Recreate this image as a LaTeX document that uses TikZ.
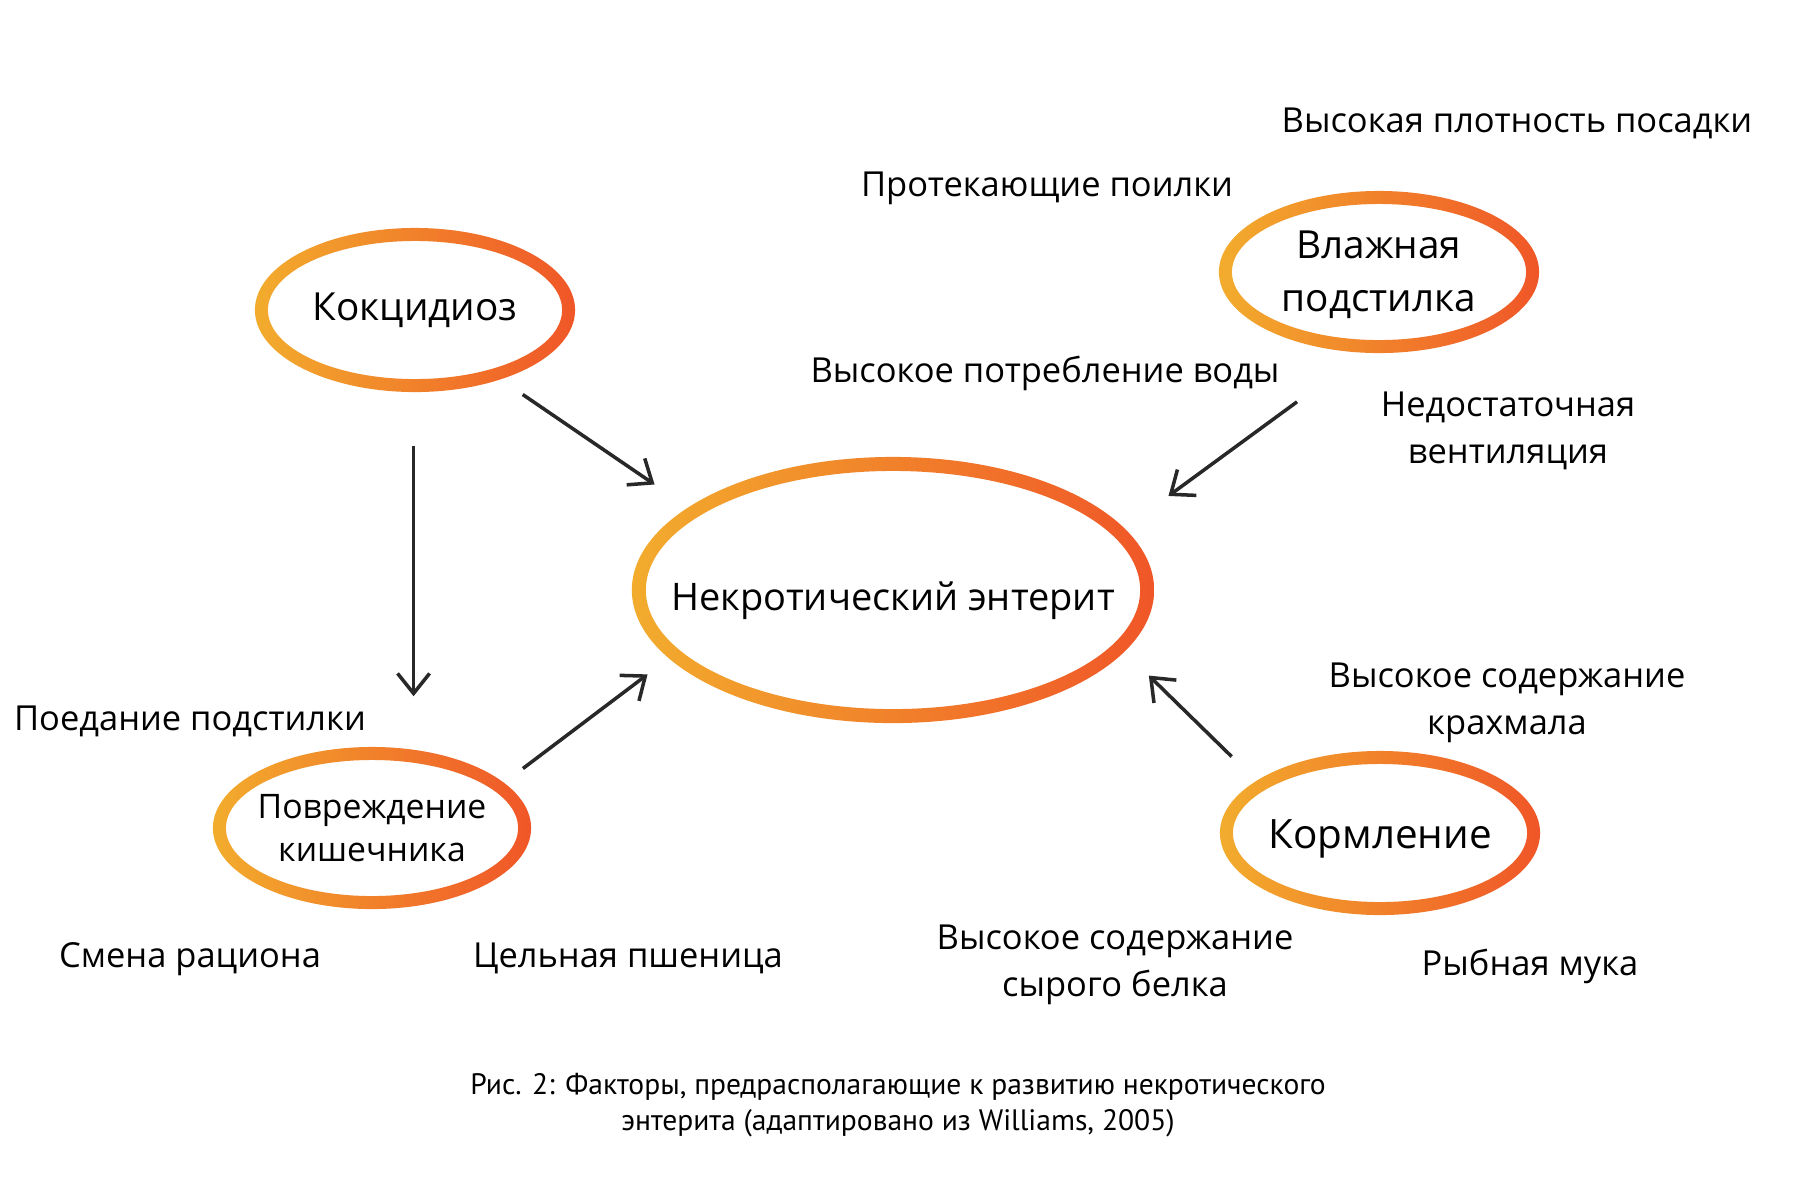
\documentclass[tikz,border=0pt]{standalone}
\usepackage{fontspec}
\setmainfont{Open Sans}
\newfontfamily\capfont{PT Sans}
\usetikzlibrary{shapes.geometric,arrows.meta}
\definecolor{ringleft}{RGB}{242,172,45}
\definecolor{ringright}{RGB}{240,86,40}
\definecolor{arrowgray}{RGB}{40,40,40}

\begin{document}
\begin{tikzpicture}[x=0.01cm,y=-0.01cm,
    ring/.style={ellipse,inner sep=0pt,draw=none},
    ringfill/.style={left color=ringleft,right color=ringright,even odd rule},
    factor/.style={font=\fontsize{9.8}{13.2}\selectfont,align=center,inner sep=0pt},
    arr/.style={draw=arrowgray,line width=1pt,-{Straight Barb[length=0.2cm,width=0.32cm]}}]
        \fill[white] (0,0) rectangle (1800,1199);
        \useasboundingbox (0,0) rectangle (1800,1199);

        % rings
        \node[ring,minimum width=3.2cm,minimum height=1.64cm,label={[font=\fontsize{11}{15}\selectfont]center:Кокцидиоз}] (kok) at (415,310) {};
        \shade[ringfill] (kok.center) ellipse (1.6cm and 0.82cm) (kok.center) ellipse (1.47cm and 0.69cm);

        \node[ring,minimum width=5.22cm,minimum height=2.66cm,label={[font=\fontsize{10.8}{15}\selectfont,yshift=-0.11cm]center:Некротический энтерит}] (nek) at (893,590) {};
        \shade[ringfill] (nek.center) ellipse (2.61cm and 1.33cm) (nek.center) ellipse (2.47cm and 1.19cm);

        \node[ring,minimum width=3.2cm,minimum height=1.62cm,label={[font=\fontsize{11}{15}\selectfont,align=center,yshift=-0.03cm]center:Влажная\\подстилка}] (vlazh) at (1379,272) {};
        \shade[ringfill] (vlazh.center) ellipse (1.6cm and 0.81cm) (vlazh.center) ellipse (1.47cm and 0.68cm);

        \node[ring,minimum width=3.18cm,minimum height=1.62cm,label={[font=\fontsize{9.6}{12.2}\selectfont,align=center]center:Повреждение\\кишечника}] (povr) at (372,828) {};
        \shade[ringfill] (povr.center) ellipse (1.59cm and 0.81cm) (povr.center) ellipse (1.46cm and 0.68cm);

        \node[ring,minimum width=3.2cm,minimum height=1.64cm,label={[font=\fontsize{11.5}{15}\selectfont,yshift=-0.06cm]center:Кормление}] (korm) at (1380,833) {};
        \shade[ringfill] (korm.center) ellipse (1.6cm and 0.82cm) (korm.center) ellipse (1.47cm and 0.69cm);

        % factors
        \node[factor,anchor=base] (plot) at (1517,132) {Высокая плотность посадки};
        \node[factor,anchor=base] (poil) at (1047,196) {Протекающие поилки};
        \node[factor,anchor=base] (voda) at (1045,382) {Высокое потребление воды};
        \node[factor] (vent) at (1508,431) {Недостаточная\\вентиляция};
        \node[factor] (krah) at (1507,703) {Высокое содержание\\крахмала};
        \node[factor,anchor=base] (poed) at (190,730) {Поедание подстилки};
        \node[factor,anchor=base] (smena) at (190,967) {Смена рациона};
        \node[factor,anchor=base] (psh) at (628,967) {Цельная пшеница};
        \node[factor] (belok) at (1115,965) {Высокое содержание\\сырого белка};
        \node[factor,anchor=base] (muka) at (1530,975) {Рыбная мука};

        % arrows
        \draw[arr,shorten <=0.26cm,shorten >=0.4cm] (kok.-39) -- (nek.158.5);
        \draw[arr,shorten <=0.53cm,shorten >=0.5cm] (kok.-91) -- (kok.-91 |- povr.north);
        \draw[arr,shorten <=0.23cm,shorten >=0.26cm] (povr.19) -- (nek.197.4);
        \draw[arr,shorten <=0.34cm,shorten >=0.335cm] (korm.157.2) -- (nek.-15.6);
        \draw[arr,shorten <=0.82cm,shorten >=0.54cm] (vlazh.259.3) -- (nek.15.8);

        \node[font=\capfont\fontsize{8.4}{10.2}\selectfont,align=center] (cap) at (898,1105) {Рис. 2: Факторы, предрасполагающие к развитию некротического\\энтерита (адаптировано из Williams, 2005)};
\end{tikzpicture}
\end{document}
